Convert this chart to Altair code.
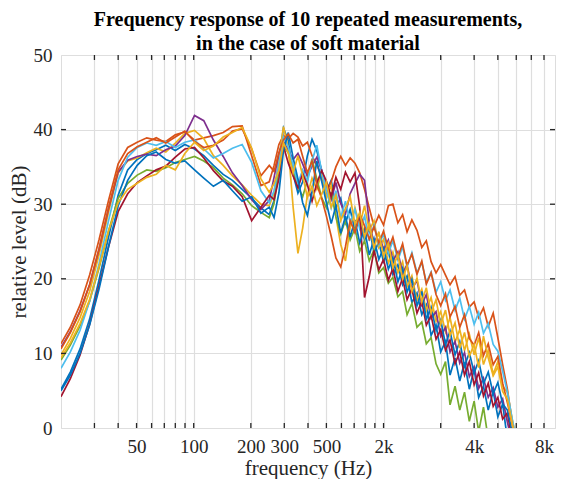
import altair as alt
import pandas as pd

# ---------------- data ----------------
freqs = [20, 22.4, 25.2, 28.3, 31.7, 35.6, 40, 44.9, 50.4, 56.6, 63.5, 71.3, 80, 89.8, 101, 113, 127, 143, 160, 180, 202, 226,
         250, 265, 281, 297, 315, 334, 354, 375, 397, 420, 445, 472,
         500, 530, 561, 595, 630, 667, 707, 749, 794, 841, 891, 944,
         1000, 1060, 1120, 1190, 1260, 1330, 1410, 1500, 1590, 1680, 1780, 1890,
         2000, 2120, 2240, 2380, 2520, 2670, 2830, 3000, 3170, 3360, 3560, 3780,
         4000, 4240, 4490, 4760, 5040, 5340, 5660, 6000, 6350]

m01 = [5.2, 7.5, 10.6, 14.6, 19.8, 25.6, 31.2, 34.6, 36.0, 36.8, 37.3, 37.9, 37.2, 38.0, 37.4, 36.5, 35.2, 34.0, 33.2, 32.0, 30.8, 29.5,
       28.6, 30.5, 36.0, 40.2, 38.5, 34.0, 31.5, 33.0, 36.5, 38.7, 37.2, 34.5,
       31.8, 33.2, 29.6, 30.8, 27.5, 29.3, 26.4, 28.1, 25.2, 26.8, 23.5, 24.9,
       22.3, 23.8, 20.6, 21.9, 19.2, 20.4, 16.8, 18.1, 15.2, 16.5, 12.4, 13.8,
       10.2, 11.6, 7.1, 9.4, 6.3, 8.8, 5.2, 7.9, 4.1, 5.6, 2.4, 4.9,
       1.5, 3.2, -1.5, -4, -6, -8, -10, -12, -14]
m02 = [11.3, 13.5, 16.5, 20.5, 25.2, 30.5, 35.4, 37.6, 38.3, 38.9, 38.6, 38.4, 39.3, 39.7, 38.6, 38.9, 39.2, 39.6, 40.4, 40.5, 36.5, 32.5,
       33.0, 35.2, 38.0, 39.2, 38.8, 39.5, 39.0, 37.8, 38.3, 36.5, 35.2, 33.8,
       31.5, 33.0, 35.0, 36.4, 35.2, 36.2, 35.5, 34.2, 32.0, 29.5, 27.0, 28.5,
       27.2, 29.8, 30.0, 27.5, 28.6, 26.3, 27.9, 26.5, 24.2, 25.1, 22.3, 20.8,
       21.9, 20.5, 19.2, 20.3, 17.8, 18.5, 16.2, 16.9, 14.8, 16.1, 13.6, 15.4,
       12.1, 8.5, 5.2, 0.8, -3, -6, -9, -12, -15]
m03 = [9.8, 12.0, 14.8, 18.3, 23.2, 28.9, 34.2, 35.8, 36.2, 36.9, 37.5, 37.0, 38.2, 39.5, 39.9, 38.8, 36.5, 35.2, 33.8, 32.6, 31.2, 30.0,
       29.8, 31.5, 35.8, 40.4, 37.5, 29.6, 23.4, 26.8, 31.2, 33.5, 32.0, 34.2,
       30.8, 32.5, 28.4, 24.6, 22.4, 26.9, 29.5, 27.2, 29.8, 26.5, 27.8, 24.2,
       25.3, 22.1, 23.6, 20.8, 22.3, 18.9, 20.4, 17.1, 18.6, 15.8, 17.5, 14.3,
       15.6, 12.9, 14.8, 11.5, 13.2, 10.4, 12.6, 9.8, 12.1, 8.5, 10.4, 7.2,
       8.9, 5.6, 4.8, 1.2, -2, -5, -8, -11, -14]
m04 = [10.8, 12.9, 15.7, 19.2, 23.9, 29.4, 34.3, 35.9, 36.4, 36.7, 36.5, 37.3, 37.8, 39.2, 41.9, 41.2, 38.6, 36.4, 34.2, 32.5, 30.6, 29.3,
       30.5, 33.6, 36.8, 38.4, 37.2, 36.0, 36.8, 35.4, 33.7, 35.1, 36.3, 34.6,
       32.4, 30.6, 32.9, 30.1, 28.7, 31.4, 32.8, 34.0, 33.2, 27.5, 24.8, 26.1,
       23.9, 25.2, 22.4, 23.6, 20.7, 21.9, 18.6, 19.8, 16.5, 17.9, 14.7, 15.6,
       12.3, 13.5, 10.2, 11.6, 8.7, 10.1, 6.9, 8.2, 5.3, 6.7, 4.1, 5.4,
       2.8, 3.9, 0.8, -2, -4, -6, -8, -10, -12]
m05 = [9.1, 11.1, 13.7, 17.0, 21.4, 26.4, 30.8, 32.8, 33.9, 34.6, 34.4, 34.9, 35.6, 36.0, 36.4, 35.8, 34.9, 33.5, 32.6, 31.4, 29.8, 28.9,
       28.2, 30.1, 34.6, 37.8, 36.9, 34.5, 32.4, 31.0, 33.2, 36.1, 33.4, 30.9,
       29.5, 31.6, 28.3, 26.0, 27.9, 25.2, 26.8, 23.7, 25.1, 22.4, 23.9, 20.8,
       21.5, 19.4, 20.2, 17.6, 18.3, 15.2, 16.7, 13.5, 14.2, 11.3, 12.1, 8.6,
       7.2, 8.9, 3.1, 5.6, 2.4, 4.8, 0.9, 3.6, -0.5, 2.8, -1.5, -3,
       -5, -7, -9, -11, -13, -15, -17, -19, -21]
m06 = [8.0, 10.2, 13.1, 17.0, 22.0, 27.8, 33.2, 36.3, 37.6, 38.2, 37.9, 38.4, 37.6, 38.3, 38.6, 37.4, 36.2, 36.8, 37.5, 38.0, 35.6, 31.8,
       30.2, 31.8, 35.4, 39.0, 37.6, 35.2, 32.8, 34.6, 33.0, 35.8, 37.9, 34.4,
       31.9, 29.5, 31.8, 28.2, 30.4, 27.6, 29.3, 26.7, 28.4, 25.1, 27.2, 24.6,
       26.0, 23.4, 25.1, 22.5, 24.3, 21.6, 23.5, 20.8, 22.2, 19.5, 20.9, 18.2,
       19.6, 17.1, 18.5, 15.8, 17.4, 14.6, 16.3, 13.9, 15.5, 12.7, 14.0, 11.2,
       10.3, 7.6, 4.8, 1.2, -2, -5, -8, -11, -14]
m07 = [4.2, 6.6, 9.8, 13.9, 19.0, 24.3, 29.0, 31.4, 32.9, 33.8, 34.6, 35.1, 36.3, 37.4, 37.6, 36.2, 34.5, 33.1, 32.4, 31.0, 27.8, 29.6,
       31.2, 30.6, 33.4, 37.8, 35.5, 33.8, 32.2, 34.1, 32.6, 30.4, 32.8, 34.5,
       33.1, 31.0, 33.6, 32.0, 34.3, 33.0, 34.2, 29.6, 17.5, 20.3, 23.8, 21.2,
       22.6, 19.8, 21.4, 18.3, 20.1, 17.2, 18.7, 15.4, 17.0, 13.8, 15.1, 11.9,
       13.2, 10.4, 11.8, 8.6, 10.2, 7.1, 8.9, 5.8, 7.4, 4.3, 6.0, 2.9,
       4.1, 1.2, 2.0, -1.5, -4, -6, -8, -10, -12]
m08 = [5.0, 7.1, 10.0, 13.8, 18.6, 24.3, 29.8, 33.2, 35.2, 36.5, 37.0, 36.0, 35.5, 35.8, 34.6, 33.5, 32.4, 33.2, 31.8, 30.4, 31.0, 28.8,
       29.6, 28.2, 31.5, 37.2, 39.6, 36.2, 33.4, 30.2, 28.5, 31.6, 35.8, 33.1,
       30.2, 27.4, 29.8, 26.1, 28.4, 25.6, 27.9, 24.8, 26.7, 23.2, 25.4, 22.6,
       24.1, 21.3, 22.8, 19.6, 21.4, 18.2, 19.9, 16.4, 18.3, 14.6, 16.2, 13.1,
       14.5, 11.2, 13.0, 9.8, 11.6, 8.3, 10.1, 7.4, 9.0, 5.9, 7.5, 4.6,
       6.1, 3.2, 2.4, -0.6, -3.5, -6.5, -9.5, -12.5, -15.5]
m09 = [10.6, 12.8, 15.6, 19.2, 24.0, 29.5, 34.6, 36.8, 37.7, 38.3, 38.9, 38.2, 39.0, 39.8, 38.4, 37.6, 37.9, 38.6, 39.8, 40.1, 37.4, 33.8,
       35.2, 34.4, 36.9, 38.6, 39.4, 38.2, 38.7, 36.4, 34.2, 35.8, 32.6, 30.8,
       28.4, 25.7, 22.8, 21.6, 24.3, 27.8, 26.2, 28.7, 27.1, 25.3, 27.0, 24.8,
       26.4, 24.0, 25.6, 22.9, 24.7, 21.8, 23.3, 20.6, 22.4, 19.3, 20.8, 17.9,
       16.4, 18.0, 14.9, 16.3, 13.5, 15.2, 12.0, 11.1, 12.8, 9.7, 11.3, 8.5,
       9.6, 6.0, 3.4, 0.5, -3, -6, -9, -12, -15]
m10 = [9.4, 11.4, 14.0, 17.2, 21.6, 26.4, 30.2, 32.0, 32.8, 33.6, 34.0, 35.2, 34.6, 36.8, 38.3, 37.2, 37.8, 39.0, 39.6, 40.3, 37.5, 33.4,
       31.6, 32.8, 34.5, 38.2, 36.9, 34.2, 36.5, 33.8, 30.9, 32.4, 29.8, 31.3,
       33.0, 29.6, 31.2, 27.8, 29.4, 31.0, 27.3, 28.9, 25.6, 27.4, 24.1, 26.3,
       23.0, 24.8, 21.5, 23.2, 20.0, 21.7, 18.3, 20.1, 16.9, 18.8, 15.4, 17.2,
       13.9, 15.8, 12.4, 14.1, 10.7, 12.8, 9.6, 11.2, 8.1, 12.3, 9.4, 7.0,
       8.2, 4.9, 3.8, 0.6, -2.5, -5.5, -8.5, -11.5, -14.5]

run_names = ["m01", "m02", "m03", "m04", "m05", "m06", "m07", "m08", "m09", "m10"]
run_values = [m01, m02, m03, m04, m05, m06, m07, m08, m09, m10]
run_colors = ["#0072BD", "#D95319", "#EDB120", "#7E2F8E", "#77AC30",
              "#4DBEEE", "#A2142F", "#0072BD", "#D95319", "#EDB120"]

x_grid_ticks = [30, 40, 50, 60, 70, 80, 90, 100, 200, 300, 400, 500, 600, 700,
                800, 900, 1000, 2000, 3000, 4000, 5000, 6000, 7000]
x_label_ticks = [50, 100, 200, 300, 500, 1000, 3000, 7000]
x_label_texts = ["50", "100", "200", "300", "500", "2k", "4k", "8k"]
y_ticks = [0, 10, 20, 30, 40, 50]
y_inner_ticks = [10, 20, 30, 40]

title_lines = ["Frequency response of 10 repeated measurements,",
               "in the case of soft material"]

# ---------------- build ----------------
rows = []
for name, vals in zip(run_names, run_values):
    for f, v in zip(freqs, vals):
        rows.append({"f": f, "level": v, "run": name})
df = pd.DataFrame(rows)

expr = "''"
for val, txt in reversed(list(zip(x_label_ticks, x_label_texts))):
    expr = f"abs(datum.value - {val}) < 0.001 ? '{txt}' : ({expr})"

FONT = "Liberation Serif"
W, H = 494, 373
TXT = "#262626"
GRID = "#dedede"

xscale = alt.Scale(type="log", domain=[20, 8000], nice=False)
yscale = alt.Scale(domain=[0, 50], nice=False)

x_axis = alt.Axis(values=x_grid_ticks, labelExpr=expr, grid=True, ticks=False,
                  domain=False, labelOverlap=False, labelFlush=False,
                  labelFont=FONT, labelFontSize=19, labelColor=TXT, labelPadding=9,
                  title="frequency (Hz)", titleFont=FONT, titleFontSize=21,
                  titleFontWeight="normal", titleColor=TXT, titlePadding=1,
                  gridColor=GRID, gridWidth=1.2)
y_axis = alt.Axis(values=y_ticks, grid=True, ticks=False, domain=False,
                  labelFont=FONT, labelFontSize=19, labelColor=TXT, labelPadding=9,
                  title="relative level (dB)", titleFont=FONT, titleFontSize=21,
                  titleFontWeight="normal", titleColor=TXT, titlePadding=4,
                  gridColor=GRID, gridWidth=1.2)

lines = alt.Chart(df).mark_line(clip=True, strokeWidth=1.7).encode(
    x=alt.X("f:Q", scale=xscale, axis=x_axis),
    y=alt.Y("level:Q", scale=yscale, axis=y_axis),
    color=alt.Color("run:N", scale=alt.Scale(domain=run_names, range=run_colors), legend=None),
    order=alt.Order("f:Q"),
)

xt = pd.DataFrame({"f": x_grid_ticks})
yt = pd.DataFrame({"level": y_inner_ticks})
TICK = "#262626"

bottom_ticks = alt.Chart(xt).mark_rule(color=TICK, strokeWidth=1.3).encode(
    x=alt.X("f:Q", scale=xscale, axis=x_axis), y=alt.value(H), y2=alt.value(H - 5))
top_ticks = alt.Chart(xt).mark_rule(color=TICK, strokeWidth=1.3).encode(
    x=alt.X("f:Q", scale=xscale, axis=x_axis), y=alt.value(0), y2=alt.value(5))
left_ticks = alt.Chart(yt).mark_rule(color=TICK, strokeWidth=1.3).encode(
    y=alt.Y("level:Q", scale=yscale, axis=y_axis), x=alt.value(0), x2=alt.value(5))
right_ticks = alt.Chart(yt).mark_rule(color=TICK, strokeWidth=1.3).encode(
    y=alt.Y("level:Q", scale=yscale, axis=y_axis), x=alt.value(W), x2=alt.value(W - 5))

title1 = alt.Chart(pd.DataFrame({"t": [title_lines[0]]})).mark_text(
    font=FONT, fontSize=20, fontWeight="bold", color="#000000",
    align="center", baseline="alphabetic").encode(
    text="t:N", x=alt.value(W / 2), y=alt.value(-29))
title2 = alt.Chart(pd.DataFrame({"t": [title_lines[1]]})).mark_text(
    font=FONT, fontSize=20, fontWeight="bold", color="#000000",
    align="center", baseline="alphabetic").encode(
    text="t:N", x=alt.value(W / 2), y=alt.value(-5))

chart = alt.layer(lines, bottom_ticks, top_ticks, left_ticks, right_ticks,
                  title1, title2).properties(
    width=W, height=H,
    autosize=alt.AutoSizeParams(type="none"),
    padding={"left": 53, "top": 47, "right": 1, "bottom": 51},
).configure_view(stroke="#262626", strokeWidth=1.4).configure(background="white")

chart.save("out.html", embed_options={"renderer": "svg", "actions": False})
